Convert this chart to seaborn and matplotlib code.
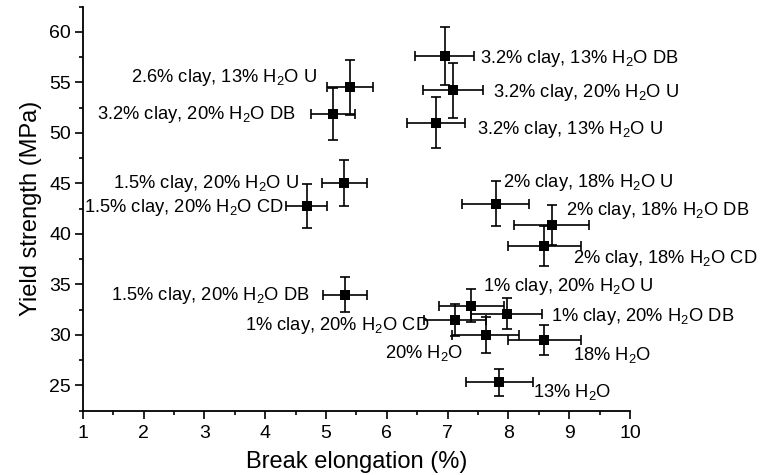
import numpy as np
import pandas as pd
import matplotlib
matplotlib.use("Agg")
import matplotlib.pyplot as plt
import seaborn as sns
from matplotlib.ticker import MultipleLocator

# ---- data ----
labels = [
    "3.2% clay, 13% H$_2$O DB",
    "3.2% clay, 20% H$_2$O U",
    "3.2% clay, 13% H$_2$O U",
    "2% clay, 18% H$_2$O U",
    "2% clay, 18% H$_2$O DB",
    "2.6% clay, 13% H$_2$O U",
    "3.2% clay, 20% H$_2$O DB",
    "1.5% clay, 20% H$_2$O U",
    "1.5% clay, 20% H$_2$O CD",
    "1.5% clay, 20% H$_2$O DB",
    "2% clay, 18% H$_2$O CD",
    "1% clay, 20% H$_2$O U",
    "1% clay, 20% H$_2$O DB",
    "1% clay, 20% H$_2$O CD",
    "20% H$_2$O",
    "18% H$_2$O",
    "13% H$_2$O",
]
elongation = [6.95, 7.09, 6.81, 7.79, 8.71, 5.40, 5.12, 5.30, 4.68, 5.31,
              8.59, 7.39, 7.97, 7.12, 7.63, 8.59, 7.85]
elong_err = [0.49, 0.50, 0.48, 0.55, 0.61, 0.38, 0.36, 0.37, 0.33, 0.36,
             0.60, 0.53, 0.58, 0.51, 0.55, 0.60, 0.55]
strength = [57.6, 54.2, 51.0, 43.0, 40.9, 54.5, 51.9, 45.0, 42.8, 34.0,
            38.8, 32.9, 32.1, 31.5, 30.0, 29.5, 25.3]
strength_err = [2.85, 2.72, 2.54, 2.19, 2.0, 2.74, 2.57, 2.27, 2.19, 1.71,
                2.0, 1.62, 1.54, 1.61, 1.74, 1.46, 1.33]

# ---- label layout (text anchor positions) ----
label_x = [7.53, 7.74, 7.49, 7.91, 8.94, 4.86, 4.51, 4.55, 4.30, 4.74,
           9.06, 7.58, 8.70, 6.71, 7.26, 9.07, 8.41]
label_y = [56.96, 53.52, 49.93, 44.63, 41.87, 55.08, 51.36, 44.56, 42.2, 33.42,
           37.1, 34.34, 31.36, 30.53, 27.71, 27.54, 23.89]
label_ha = ["left", "left", "left", "left", "left", "right", "right", "right",
            "right", "right", "left", "left", "left", "right", "right", "left", "left"]

df = pd.DataFrame({"elongation": elongation, "strength": strength,
                   "xerr": elong_err, "yerr": strength_err, "label": labels})

sns.set_theme(style="ticks")
plt.rcParams["font.family"] = ["Liberation Sans", "DejaVu Sans"]
plt.rcParams["mathtext.fontset"] = "custom"
plt.rcParams["mathtext.rm"] = "Liberation Sans"
plt.rcParams["mathtext.default"] = "regular"

fig = plt.figure(figsize=(7.66, 4.75), dpi=100)
ax = fig.add_axes([0.108, 0.1354, 0.7145, 0.8506])

ax.errorbar(df["elongation"], df["strength"], xerr=df["xerr"], yerr=df["yerr"],
            fmt="none", ecolor="black", elinewidth=1.2, capsize=3.8, capthick=1.2,
            zorder=2)
sns.scatterplot(data=df, x="elongation", y="strength", ax=ax, marker="s",
                color="black", s=58, edgecolor="black", linewidth=0, zorder=3,
                legend=False)

for t, lx, ly, ha in zip(labels, label_x, label_y, label_ha):
    ax.text(lx, ly, t, ha=ha, va="baseline", fontsize=13.2, color="black")

ax.set_xlim(1, 10)
ax.set_ylim(22.5, 62.5)
ax.xaxis.set_major_locator(MultipleLocator(1))
ax.xaxis.set_minor_locator(MultipleLocator(0.5))
ax.yaxis.set_minor_locator(MultipleLocator(2.5))
ax.set_yticks([25, 30, 35, 40, 45, 50, 55, 60])
ax.tick_params(axis="both", which="major", length=5.5, width=1.2, labelsize=14,
               color="black", labelcolor="black", pad=3)
ax.tick_params(axis="x", which="major", pad=4.5)
ax.tick_params(axis="both", which="minor", length=3, width=1.2, color="black")
for s in ["left", "bottom"]:
    ax.spines[s].set_linewidth(1.3)
    ax.spines[s].set_color("black")
sns.despine(ax=ax)

ax.set_xlabel("Break elongation (%)", fontsize=17, color="black", labelpad=7)
ax.set_ylabel("Yield strength (MPa)", fontsize=17, color="black", labelpad=5)

fig.savefig("out.png", dpi=100)
